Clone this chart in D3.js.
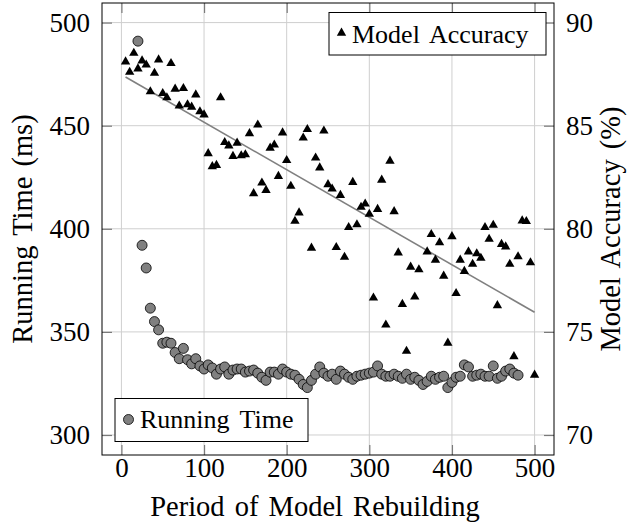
<!DOCTYPE html>
<html><head><meta charset="utf-8">
<script src="https://cdn.jsdelivr.net/npm/d3@7"></script>
<style>
html,body{margin:0;padding:0;background:#fff;}
text{font-family:"Liberation Serif","Times New Roman",serif;}
</style></head>
<body>
<svg id="chart" width="632" height="529"></svg>
<script>
// ---- data ----
const xTicks = [0, 100, 200, 300, 400, 500];
const rtTicks = [300, 350, 400, 450, 500];
const accTicks = [70, 75, 80, 85, 90];

const accX = [5,10,15,20,25,30,35,40,45,50,55,60,65,70,75,80,85,90,95,100,
  105,110,115,120,125,130,135,140,145,150,155,160,165,170,175,180,185,190,195,200,
  205,210,215,220,225,230,235,240,245,250,255,260,265,270,275,280,285,290,295,300,
  305,310,315,320,325,330,335,340,345,350,355,360,370,375,380,385,390,395,400,
  405,410,415,420,425,430,435,440,445,450,455,460,465,470,475,480,485,490,495,500];
const accY = [88.1,87.6,88.52,87.76,88.15,87.95,86.65,87.55,88.2,86.57,
  86.36,88.02,86.78,85.96,86.81,86.02,85.91,86.5,85.68,85.53,
  83.65,83.02,83.08,86.36,84.19,84.03,83.52,84.16,83.55,83.6,
  84.62,81.71,85.04,82.23,81.87,83.92,84.07,82.55,84.66,83.32,
  82.07,80.37,80.78,84.41,84.82,79.07,83.44,82.96,84.75,82.15,
  81.94,79.1,81.63,78.63,80.07,82.26,80.2,81.05,81.21,80.71,
  76.65,80.95,82.37,75.34,83.29,80.84,78.84,76.34,74.07,78.15,
  76.7,78.02,78.89,79.73,78.49,79.33,77.71,74.46,79.63,
  76.87,78.49,77.94,78.89,78.29,78.8,78.58,80.07,79.5,80.18,
  76.28,79.25,79.13,78.29,73.81,78.65,80.39,80.36,78.36,72.91];

const rtX = [20,25,30,35,40,45,50,55,60,65,70,75,80,85,90,95,100,
  105,110,115,120,125,130,135,140,145,150,155,160,165,170,175,180,185,190,195,200,
  205,210,215,220,225,230,235,240,245,250,255,260,265,270,275,280,285,290,295,300,
  305,310,315,320,325,330,335,340,345,350,355,360,365,370,375,380,385,390,395,400,
  405,410,415,420,425,430,435,440,445,450,455,460,465,470,475,480];
const rtY = [491,392,381,361.5,355,351,344.5,345,344.5,340,337,342,336.5,334.5,337,333.5,332,
  334,332.5,329.5,332,333,329.5,331.5,332,332,330.5,331,331.5,330,328,326.5,330.5,330.5,329.5,332,330.5,
  329.5,329,327,324.5,323,326.5,329.5,333,330,328.5,329.5,327,331,329.5,328,327,328.5,329,329.5,330,
  330.5,333.5,329.5,328.5,328.5,329.5,328.5,327.5,329.5,327,328,326.5,324.5,326,328.5,327,328,328.5,323,325.5,
  328,328.5,334,333,328.5,329,329.5,328.5,328.5,333.5,327.5,328.5,331,332,330,329];

const trendX = [5, 500];
const trendY = [87.36, 75.95];

const legendAcc = "Model Accuracy";
const legendRt = "Running Time";
const xLabel = "Period of Model Rebuilding";
const yLabelL = "Running Time (ms)";
const yLabelR = "Model Accuracy (%)";

// ---- layout ----
const L = 102, R = 554, T = 3, B = 455;
const svg = d3.select("#chart");
svg.append("rect").attr("width",632).attr("height",529).attr("fill","#fff");

const x = d3.scaleLinear().domain([-23.5, 523.5]).range([L, R]);
const yL = d3.scaleLinear().domain([290.3, 509.5]).range([B, T]);
const yR = d3.scaleLinear().domain([69.03, 90.95]).range([B, T]);

// grid
const grid = svg.append("g");
grid.selectAll(".gx").data(xTicks).enter().append("line")
  .attr("x1", d=>x(d)).attr("x2", d=>x(d)).attr("y1", T).attr("y2", B)
  .attr("stroke", "#cfcfcf").attr("stroke-width", 1);
grid.selectAll(".gy").data(rtTicks).enter().append("line")
  .attr("y1", d=>yL(d)).attr("y2", d=>yL(d)).attr("x1", L).attr("x2", R)
  .attr("stroke", "#cfcfcf").attr("stroke-width", 1);

// axes
const fs = 27;
const FF = '"Liberation Serif","Times New Roman",serif';
function styleAxis(g){
  g.attr("font-family", FF);
  g.select(".domain").remove();
  g.selectAll(".tick line").attr("stroke","#7a7a7a").attr("stroke-width",1.2);
  g.selectAll(".tick text").attr("font-size", fs).attr("fill","#000").attr("font-family", FF);
}
svg.append("g").attr("transform",`translate(0,${B})`)
  .call(d3.axisBottom(x).tickValues(xTicks).tickSize(-10).tickPadding(3)).call(styleAxis);
svg.append("g").attr("transform",`translate(0,${T})`)
  .call(d3.axisTop(x).tickValues(xTicks).tickSize(-10).tickFormat("")).call(styleAxis);
svg.append("g").attr("transform",`translate(${L},0)`)
  .call(d3.axisLeft(yL).tickValues(rtTicks).tickSize(-10).tickPadding(12)).call(styleAxis);
svg.append("g").attr("transform",`translate(${R},0)`)
  .call(d3.axisRight(yR).tickValues(accTicks).tickSize(-10).tickPadding(12)).call(styleAxis);

// trend line
svg.append("path")
  .datum(trendX.map((d,i)=>[d, trendY[i]]))
  .attr("d", d3.line().x(d=>x(d[0])).y(d=>yR(d[1])))
  .attr("fill","none").attr("stroke","#808080").attr("stroke-width",1.6);

// triangles (accuracy)
const tri = d3.symbol().type(d3.symbolTriangle).size(38);
svg.append("g").selectAll("path").data(accX.map((d,i)=>[d, accY[i]])).enter().append("path")
  .attr("d", tri)
  .attr("transform", d=>`translate(${x(d[0])},${yR(d[1])})`)
  .attr("fill","#000");

// circles (running time)
svg.append("g").selectAll("circle").data(rtX.map((d,i)=>[d, rtY[i]])).enter().append("circle")
  .attr("cx", d=>x(d[0])).attr("cy", d=>yL(d[1])).attr("r", 5)
  .attr("fill","#808080").attr("stroke","#000").attr("stroke-width",0.8);

// border
svg.append("rect").attr("x",L).attr("y",T).attr("width",R-L).attr("height",B-T)
  .attr("fill","none").attr("stroke","#000").attr("stroke-width",1);

// legends
const lg1 = svg.append("g");
lg1.append("rect").attr("x",329).attr("y",12.5).attr("width",217).attr("height",42.5)
  .attr("fill","#fff").attr("stroke","#000").attr("stroke-width",1);
lg1.append("path").attr("d", tri).attr("transform","translate(341.5,33)").attr("fill","#000");
lg1.append("text").attr("x",352).attr("y",42.5).attr("font-size",26).attr("font-family",FF)
  .attr("word-spacing",4).text(legendAcc);

const lg2 = svg.append("g");
lg2.append("rect").attr("x",115).attr("y",398.5).attr("width",193).attr("height",43)
  .attr("fill","#fff").attr("stroke","#000").attr("stroke-width",1);
lg2.append("circle").attr("cx",128.5).attr("cy",419.5).attr("r",5)
  .attr("fill","#808080").attr("stroke","#000").attr("stroke-width",0.8);
lg2.append("text").attr("x",140).attr("y",427.5).attr("font-size",26).attr("font-family",FF)
  .attr("word-spacing",4).text(legendRt);

// axis labels
svg.append("text").attr("x",315).attr("y",516).attr("text-anchor","middle").attr("font-family",FF)
  .attr("font-size",28.5).attr("word-spacing",3).text(xLabel);
svg.append("text").attr("transform",`translate(32,${(T+B)/2}) rotate(-90)`).attr("text-anchor","middle")
  .attr("font-family",FF).attr("font-size",28.5).attr("word-spacing",3).text(yLabelL);
svg.append("text").attr("transform",`translate(620,${(T+B)/2}) rotate(-90)`).attr("text-anchor","middle")
  .attr("font-family",FF).attr("font-size",28.5).attr("word-spacing",3).text(yLabelR);
</script>
</body></html>
